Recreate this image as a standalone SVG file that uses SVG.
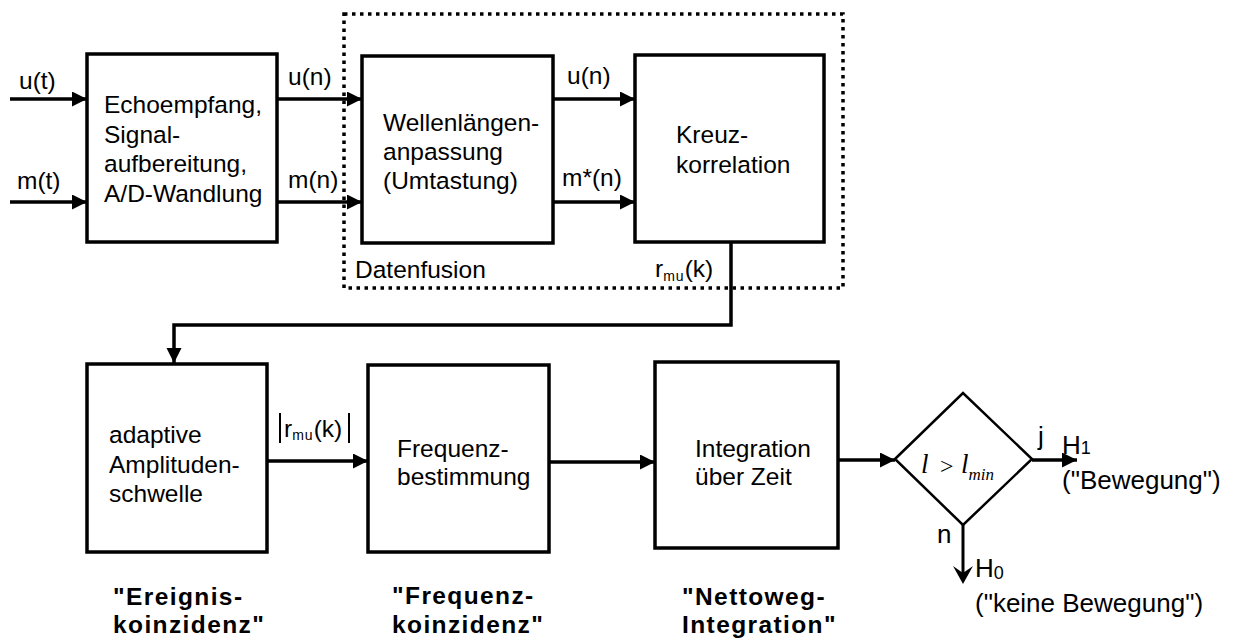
<svg xmlns="http://www.w3.org/2000/svg" width="1234" height="644" viewBox="0 0 1234 644">
<style>
  .box { fill: #fff; stroke: #000; stroke-width: 3.5; }
  .t { font-family: "Liberation Sans", Arial, sans-serif; font-size: 24.5px; fill: #000; }
  .b { font-family: "Liberation Sans", Arial, sans-serif; font-size: 24.5px; font-weight: bold; letter-spacing: 1.4px; fill: #000; }
  .r { font-family: "Liberation Sans", Arial, sans-serif; font-size: 26px; fill: #000; }
  .sub { font-family: "Liberation Sans", Arial, sans-serif; font-size: 14px; letter-spacing: 1px; fill: #000; }
  .hs { font-family: "Liberation Sans", Arial, sans-serif; font-size: 18px; fill: #000; }
  .m { font-family: "Liberation Serif", "Times New Roman", serif; fill: #000; }
  .c { fill: none; stroke: #000; stroke-width: 3.5; }
</style>
<defs>
  <marker id="ah" markerUnits="userSpaceOnUse" markerWidth="16" markerHeight="16" refX="15" refY="7.5" orient="auto">
    <path d="M0,0 L15,7.5 L0,15 Z" fill="#000"/>
  </marker>
</defs>
<rect width="1234" height="644" fill="#fff"/>

<g id="datenfusion">
  <rect x="344" y="14" width="499" height="274" fill="none" stroke="#000" stroke-width="3.5" stroke-dasharray="3.5 4.5"/>
  <text class="t" x="355" y="278">Datenfusion</text>
</g>

<g id="connectors">
  <line class="c" x1="10" y1="99" x2="87" y2="99" marker-end="url(#ah)"/>
  <line class="c" x1="10" y1="202" x2="87" y2="202" marker-end="url(#ah)"/>
  <line class="c" x1="277" y1="99" x2="362" y2="99" marker-end="url(#ah)"/>
  <line class="c" x1="277" y1="202" x2="362" y2="202" marker-end="url(#ah)"/>
  <line class="c" x1="553" y1="99" x2="635" y2="99" marker-end="url(#ah)"/>
  <line class="c" x1="553" y1="202" x2="635" y2="202" marker-end="url(#ah)"/>
  <polyline class="c" points="731,242 731,325 174,325 174,363" marker-end="url(#ah)"/>
  <line class="c" x1="267" y1="461" x2="368" y2="461" marker-end="url(#ah)"/>
  <line class="c" x1="549" y1="462" x2="655" y2="462" marker-end="url(#ah)"/>
  <line class="c" x1="838" y1="460" x2="895" y2="460" marker-end="url(#ah)"/>
  <line class="c" x1="1032" y1="460" x2="1077" y2="460" marker-end="url(#ah)"/>
  <line x1="963" y1="525" x2="963" y2="578" stroke="#000" stroke-width="3"/>
  <path d="M953,566 L963,584 L973,566 L963,573 Z" fill="#000"/>
  <text class="t" x="19" y="89">u(t)</text>
  <text class="t" x="17" y="189">m(t)</text>
  <text class="t" x="288" y="85">u(n)</text>
  <text class="t" x="288" y="188">m(n)</text>
  <text class="t" x="567" y="84">u(n)</text>
  <text class="t" x="562" y="186">m*(n)</text>
  <text class="t" x="655" y="277">r<tspan class="sub" dy="4">mu</tspan><tspan dy="-4">(k)</tspan></text>
  <line x1="280" y1="413" x2="280" y2="443" stroke="#000" stroke-width="2"/>
  <line x1="349" y1="413" x2="349" y2="443" stroke="#000" stroke-width="2"/>
  <text class="t" x="284" y="437">r<tspan class="sub" dy="3">mu</tspan><tspan dy="-3">(k)</tspan></text>
  <text class="r" x="1038" y="445">j</text>
  <text class="r" x="1062" y="454">H<tspan class="hs" dy="0">1</tspan></text>
  <text class="r" x="1062" y="489">("Bewegung")</text>
  <text class="r" x="937" y="543">n</text>
  <text class="r" x="975" y="577">H<tspan class="hs" dy="2">0</tspan></text>
  <text class="r" x="975" y="612">("keine Bewegung")</text>
</g>

<g id="n1">
  <rect class="box" x="87" y="54" width="190" height="188"/>
  <text class="t" x="104" y="113">Echoempfang,</text>
  <text class="t" x="104" y="143">Signal-</text>
  <text class="t" x="104" y="172">aufbereitung,</text>
  <text class="t" x="104" y="202">A/D-Wandlung</text>
</g>

<g id="n2">
  <rect class="box" x="362" y="56" width="191" height="187"/>
  <text class="t" x="383" y="131">Wellenlängen-</text>
  <text class="t" x="383" y="160">anpassung</text>
  <text class="t" x="383" y="189">(Umtastung)</text>
</g>

<g id="n3">
  <rect class="box" x="635" y="55" width="189" height="187"/>
  <text class="t" x="676" y="143">Kreuz-</text>
  <text class="t" x="676" y="173">korrelation</text>
</g>

<g id="n4">
  <rect class="box" x="87" y="364" width="180" height="188"/>
  <text class="t" x="109" y="443">adaptive</text>
  <text class="t" x="109" y="473">Amplituden-</text>
  <text class="t" x="109" y="502">schwelle</text>
</g>

<g id="n5">
  <rect class="box" x="368" y="365" width="181" height="187"/>
  <text class="t" x="397" y="457">Frequenz-</text>
  <text class="t" x="397" y="485">bestimmung</text>
</g>

<g id="n6">
  <rect class="box" x="655" y="362" width="183" height="186"/>
  <text class="t" x="695" y="457">Integration</text>
  <text class="t" x="695" y="485">über Zeit</text>
</g>

<g id="n7">
  <polygon points="895,459 963,393 1032,459 963,525" fill="#fff" stroke="#000" stroke-width="2.5"/>
  <text class="m" x="921" y="473" font-size="27" font-style="italic">l</text>
  <text class="m" x="940" y="474" font-size="24">&gt;</text>
  <text class="m" x="961" y="473" font-size="27" font-style="italic">l<tspan font-size="17" dy="7">min</tspan></text>
</g>

<g id="labels">
  <text class="b" x="113" y="605">"Ereignis-</text>
  <text class="b" x="113" y="633">koinzidenz"</text>
  <text class="b" x="392" y="604">"Frequenz-</text>
  <text class="b" x="392" y="633">koinzidenz"</text>
  <text class="b" x="682" y="605">"Nettoweg-</text>
  <text class="b" x="682" y="633">Integration"</text>
</g>
</svg>
